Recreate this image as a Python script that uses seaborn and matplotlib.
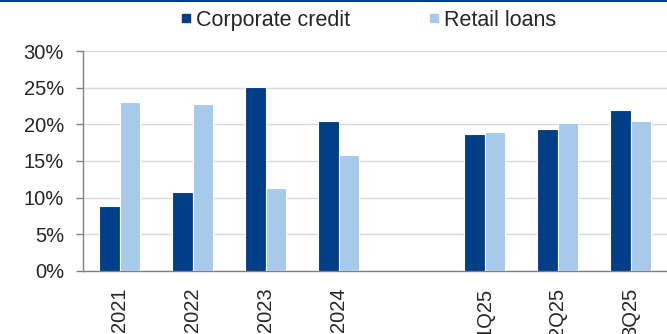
import numpy as np
import pandas as pd
import seaborn as sns
import matplotlib.pyplot as plt
from matplotlib.lines import Line2D
from matplotlib.ticker import FuncFormatter

# Chart data (shares, %)
periods = ["2021", "2022", "2023", "2024", "", "1Q25", "2Q25", "3Q25"]
corporate_credit = [8.9, 10.8, 25.1, 20.5, np.nan, 18.7, 19.3, 21.9]
retail_loans = [23.0, 22.8, 11.3, 15.8, np.nan, 18.9, 20.2, 20.45]

dark_blue = "#003F87"
light_blue = "#A7CAEB"

df = pd.DataFrame({"Period": periods,
                   "Corporate credit": corporate_credit,
                   "Retail loans": retail_loans})
long_df = df.melt(id_vars="Period", var_name="Series", value_name="Value")

sns.set_style("white")
plt.rcParams['font.family'] = ['Liberation Sans', 'DejaVu Sans']

fig = plt.figure(figsize=(6.67, 3.34), dpi=100)
ax = fig.add_axes([0.125, 0.189, 0.875, 0.658])

sns.barplot(data=long_df, x="Period", y="Value", hue="Series", order=periods,
            palette=[dark_blue, light_blue], saturation=1, width=0.56,
            edgecolor="white", linewidth=0.8, ax=ax, zorder=3, legend=False)

ax.set_ylim(0, 30)
ax.set_xlim(-0.5, 7.5)
ax.set_yticks(range(0, 31, 5))
ax.yaxis.set_major_formatter(FuncFormatter(lambda v, p: f"{v:.0f}%"))
ax.grid(axis="y", color="#D9D9D9", linewidth=1, zorder=0)
ax.set_axisbelow(True)

# category boundaries get the tick marks, labels sit in the middle
ax.set_xticks(np.arange(-0.5, 8.0, 1.0), minor=True)
ax.tick_params(axis="x", which="minor", length=6, width=1, color="#808080", direction="out")
ax.tick_params(axis="x", which="major", length=0, pad=12, labelsize=14.5, rotation=90)
ax.tick_params(axis="y", length=5, width=1, color="#808080", direction="out", labelsize=14.5, pad=9)
ax.tick_params(bottom=True, left=True)

for s in ["top", "right"]:
    ax.spines[s].set_visible(False)
for s in ["left", "bottom"]:
    ax.spines[s].set_color("#808080")
    ax.spines[s].set_linewidth(1)

ax.set_xlabel("")
ax.set_ylabel("")

handles = [Line2D([], [], marker="s", linestyle="", markersize=6,
                  markerfacecolor=c, markeredgecolor=c) for c in [dark_blue, light_blue]]
fig.legend(handles, ["Corporate credit", "Retail loans"], loc="center",
           bbox_to_anchor=(0.551, 0.94), ncol=2, frameon=False, fontsize=15.5,
           handletextpad=0.16, columnspacing=3.6, handlelength=0.6,
           borderpad=0, borderaxespad=0)

# dark rule along the top of the figure
fig.add_artist(Line2D([0, 1], [0.997, 0.997], color=dark_blue, linewidth=1.5,
                      transform=fig.transFigure))

fig.savefig("out.png", dpi=100)
